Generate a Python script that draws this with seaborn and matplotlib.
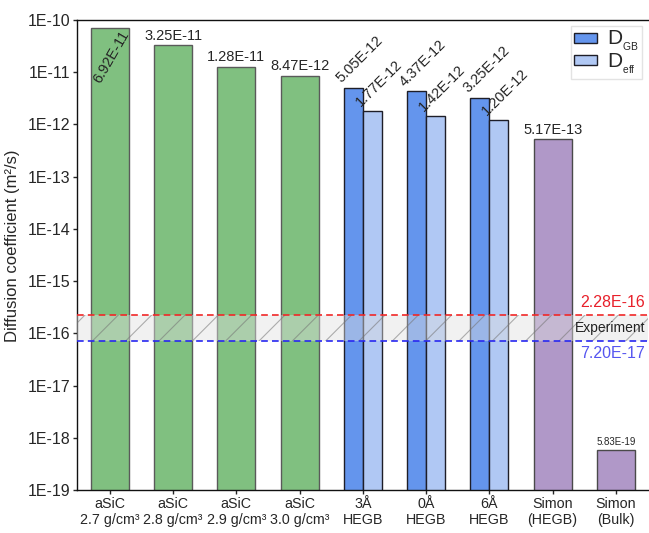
import numpy as np
import pandas as pd
import matplotlib
matplotlib.use("Agg")
import matplotlib.pyplot as plt
import seaborn as sns

sns.set_style("ticks")
plt.rcParams["font.family"] = ["Liberation Sans", "DejaVu Sans"]
plt.rcParams["mathtext.fontset"] = "custom"
plt.rcParams["mathtext.rm"] = "Liberation Sans"
plt.rcParams["hatch.linewidth"] = 0.8

# Categories along the x axis
categories = ["aSiC\n2.7 g/cm³", "aSiC\n2.8 g/cm³", "aSiC\n2.9 g/cm³", "aSiC\n3.0 g/cm³",
              "3Å\nHEGB", "0Å\nHEGB", "6Å\nHEGB", "Simon\n(HEGB)", "Simon\n(Bulk)"]

# Amorphous SiC simulations
asic_cats = categories[0:4]
asic_vals = [6.92e-11, 3.25e-11, 1.28e-11, 8.47e-12]
asic_labels = ["6.92E-11", "3.25E-11", "1.28E-11", "8.47E-12"]

# Grain-boundary simulations: D_GB and D_eff
gb_cats = categories[4:7]
gb_vals = [5.05e-12, 4.37e-12, 3.25e-12]
gb_labels = ["5.05E-12", "4.37E-12", "3.25E-12"]
eff_vals = [1.77e-12, 1.42e-12, 1.20e-12]
eff_labels = ["1.77E-12", "1.42E-12", "1.20E-12"]

# Literature values
simon_cats = categories[7:9]
simon_vals = [5.17e-13, 5.83e-19]
simon_labels = ["5.17E-13", "5.83E-19"]

# Experimental range
exp_low, exp_high = 7.20e-17, 2.28e-16
exp_low_label, exp_high_label = "7.20E-17", "2.28E-16"

ytick_exps = list(range(-19, -9))

green = "#80C080"
blue = "#6495ED"
lightblue = "#B0C8F4"
purple = "#B098C8"

fig = plt.figure(figsize=(6.49, 5.33), dpi=100)
ax = fig.add_axes([0.1186, 0.0807, 0.88, 0.8818])
ax.set_yscale("log")

df_asic = pd.DataFrame({"cat": asic_cats, "val": asic_vals})
df_simon = pd.DataFrame({"cat": simon_cats, "val": simon_vals})
df_pair = pd.DataFrame({
    "cat": gb_cats + gb_cats,
    "val": gb_vals + eff_vals,
    "series": ["GB"] * len(gb_cats) + ["eff"] * len(gb_cats),
})

sns.barplot(data=df_asic, x="cat", y="val", order=categories, color=green,
            width=0.6, edgecolor="#5a5a5a", linewidth=1.0, saturation=1, ax=ax)
sns.barplot(data=df_simon, x="cat", y="val", order=categories, color=purple,
            width=0.6, edgecolor="#4a4a4a", linewidth=1.0, saturation=1, ax=ax)
sns.barplot(data=df_pair, x="cat", y="val", hue="series", order=categories,
            hue_order=["GB", "eff"], palette=[blue, lightblue], width=0.6,
            edgecolor="#1e1e28", linewidth=1.0, saturation=1, ax=ax)

ax.set_ylim(10.0 ** ytick_exps[0], 10.0 ** ytick_exps[-1])
ax.set_xlim(-0.52, 8.51)

# Experimental band
ax.axhspan(exp_low, exp_high, facecolor=(0.88, 0.88, 0.88, 0.45),
           edgecolor=(0.45, 0.45, 0.45, 0.55), hatch="/", linewidth=0, zorder=5)
ax.axhline(exp_high, color="#F02828", ls=(0, (4, 2.5)), lw=1.2, zorder=6)
ax.axhline(exp_low, color="#2828F0", ls=(0, (4, 2.5)), lw=1.2, zorder=6)
ax.text(0.995, exp_high * 1.25, exp_high_label, color="#E8202A", fontsize=11.5,
        ha="right", va="bottom", transform=ax.get_yaxis_transform())
ax.text(0.995, np.sqrt(exp_low * exp_high), "Experiment", color="#222222", fontsize=10,
        ha="right", va="center", transform=ax.get_yaxis_transform(), zorder=7)
ax.text(0.995, exp_low / 1.25, exp_low_label, color="#5555F0", fontsize=11.5,
        ha="right", va="top", transform=ax.get_yaxis_transform())

# Value labels
pos = {c: i for i, c in enumerate(categories)}
for k, (c, v, lab) in enumerate(zip(asic_cats, asic_vals, asic_labels)):
    if k == 0:
        ax.text(pos[c] + 0.02, v * 10 ** -0.55, lab, rotation=60, fontsize=10.5,
                ha="center", va="center", rotation_mode="anchor")
    else:
        ax.text(pos[c], v * 1.12, lab, fontsize=10.5, ha="center", va="bottom")
for c, v, lab in zip(gb_cats, gb_vals, gb_labels):
    ax.text(pos[c] - 0.3, v * 1.1, lab, rotation=45, fontsize=10.5,
            ha="left", va="bottom", rotation_mode="anchor")
for c, v, lab in zip(gb_cats, eff_vals, eff_labels):
    ax.text(pos[c], v * 1.1, lab, rotation=45, fontsize=10.5,
            ha="left", va="bottom", rotation_mode="anchor")
ax.text(pos[simon_cats[0]], simon_vals[0] * 1.12, simon_labels[0], fontsize=10.5,
        ha="center", va="bottom")
ax.text(pos[simon_cats[1]], simon_vals[1] * 1.12, simon_labels[1], fontsize=7,
        ha="center", va="bottom")

# Axes styling
ax.set_yticks([10.0 ** e for e in ytick_exps])
ax.set_yticklabels([f"1E{e}" for e in ytick_exps], fontsize=11.5)
ax.yaxis.set_minor_locator(matplotlib.ticker.NullLocator())
ax.tick_params(axis="x", labelsize=10.3, length=3, width=1, pad=2)
ax.tick_params(axis="y", length=3, width=1, pad=2)
ax.set_xlabel("")
ax.set_ylabel("Diffusion coefficient (m²/s)", fontsize=12)
ax.yaxis.set_label_coords(-0.1, 0.52)
for s in ["left", "bottom", "top"]:
    ax.spines[s].set_linewidth(1.0)
    ax.spines[s].set_color("#111111")
ax.spines["right"].set_visible(False)

handles, _ = ax.get_legend_handles_labels()
leg = ax.legend(handles, [r"D$_{{}_\mathregular{GB}}$", r"D$_{{}_\mathregular{eff}}$"],
                loc="upper right", fontsize=15, frameon=True, fancybox=False,
                edgecolor="#dddddd", handlelength=1.1, handleheight=0.4,
                borderaxespad=0.3, labelspacing=-0.1, handletextpad=0.5,
                borderpad=0.15)

fig.savefig("out.png", dpi=100)
